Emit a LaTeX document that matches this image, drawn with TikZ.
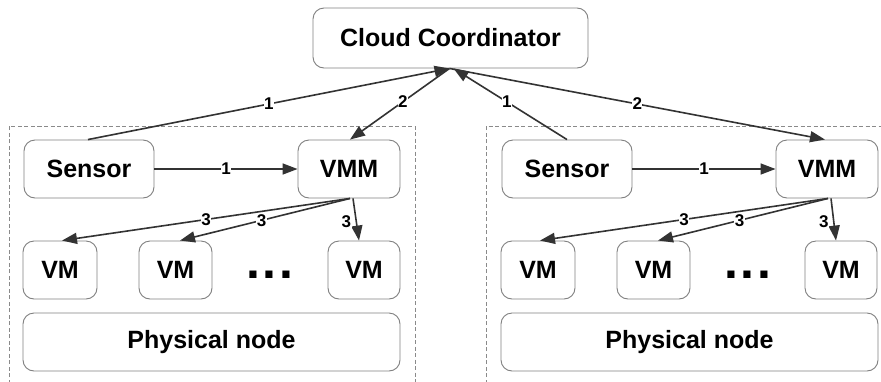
\documentclass[tikz,border=0pt]{standalone}
\usepackage{fontspec}
\setmainfont{Liberation Sans}
\usetikzlibrary{arrows.meta,calc}
\definecolor{boxline}{HTML}{808080}
\definecolor{arrowc}{HTML}{333333}
\definecolor{dashc}{HTML}{8A8A8A}
\begin{document}
\begin{tikzpicture}[x=1pt,y=-1pt,
  box/.style={draw=boxline,line width=0.9pt,rounded corners=11pt,fill=white,inner sep=0pt,
    font=\fontsize{25}{30}\selectfont\bfseries,text=black},
  conn/.style={draw=arrowc,line width=1.6pt,-{Triangle[length=15pt,width=11pt]}},
  lbl/.style={font=\fontsize{17}{20}\selectfont\bfseries,fill=white,inner sep=0.5pt,text=black},
  dots/.style={inner sep=0pt,anchor=base,font=\fontsize{50}{50}\selectfont\bfseries},
  dashbox/.style={draw=dashc,line width=0.8pt,dash pattern=on 4pt off 2.5pt}]
\useasboundingbox (0,0) rectangle (881,381);
\clip (0,0) rectangle (881,381);
\fill[white] (0,0) rectangle (881,381);
% dashed host frames
\draw[dashbox] (9,390) -- (9,126) -- (415,126) -- (415,390);
\draw[dashbox] (486,390) -- (486,126) -- (893,126) -- (893,390);
% coordinator
\node[box,minimum width=275pt,minimum height=60pt] (cc) at (450.5,38) {Cloud Coordinator};
% left host
\node[box,minimum width=130pt,minimum height=58pt] (sL) at (89,169) {Sensor};
\node[box,minimum width=102pt,minimum height=58pt] (vL) at (349,169) {VMM};
\node[box,minimum width=74pt,minimum height=58pt] (aL) at (60,270) {VM};
\node[box,minimum width=73pt,minimum height=58pt] (bL) at (175.5,270) {VM};
\node[box,minimum width=72pt,minimum height=58pt] (cL) at (364,270) {VM};
\node[box,minimum width=377pt,minimum height=58pt] (pL) at (211.5,342) {Physical node};
\node[dots] (dL) at (269.5,278) {.\kern2.6pt.\kern2.6pt.};
% right host
\node[box,minimum width=130pt,minimum height=58pt] (sR) at (567,169) {Sensor};
\node[box,minimum width=102pt,minimum height=58pt] (vR) at (827,169) {VMM};
\node[box,minimum width=74pt,minimum height=58pt] (aR) at (538,270) {VM};
\node[box,minimum width=73pt,minimum height=58pt] (bR) at (653.5,270) {VM};
\node[box,minimum width=72pt,minimum height=58pt] (cR) at (841,270) {VM};
\node[box,minimum width=377pt,minimum height=58pt] (pR) at (689.5,342) {Physical node};
\node[dots] (dR) at (747.5,278) {.\kern2.6pt.\kern2.6pt.};
% left connectors
\draw[conn] ([xshift=-1pt]sL.north) -- node[lbl]{1} ([xshift=-1pt]cc.south);
\draw[conn] ([xshift=-1pt]cc.south) -- node[lbl,pos=0.47]{2} ([xshift=1pt]vL.north);
\draw[conn] (sL.east) -- node[lbl]{1} (vL.west);
\draw[conn] ([xshift=1pt]vL.south) -- node[lbl]{3} ([xshift=2pt]aL.north);
\draw[conn] ([xshift=1pt]vL.south) -- node[lbl,pos=0.52]{3} ([xshift=4.5pt]bL.north);
\draw[conn] ([xshift=4pt]vL.south) -- node[lbl,left=4pt,pos=0.55]{3} ([xshift=-5pt]cL.north);
% right connectors
\draw[conn] (sR.north) -- node[lbl,pos=0.53]{1} ([xshift=3pt]cc.south);
\draw[conn] ([xshift=-1pt]cc.south) -- node[lbl]{2} ([xshift=-2pt]vR.north);
\draw[conn] (sR.east) -- node[lbl]{1} (vR.west);
\draw[conn] ([xshift=1pt]vR.south) -- node[lbl]{3} ([xshift=2pt]aR.north);
\draw[conn] ([xshift=1pt]vR.south) -- node[lbl,pos=0.52]{3} ([xshift=4.5pt]bR.north);
\draw[conn] ([xshift=4pt]vR.south) -- node[lbl,left=4pt,pos=0.55]{3} ([xshift=-5pt]cR.north);
\end{tikzpicture}
\end{document}
